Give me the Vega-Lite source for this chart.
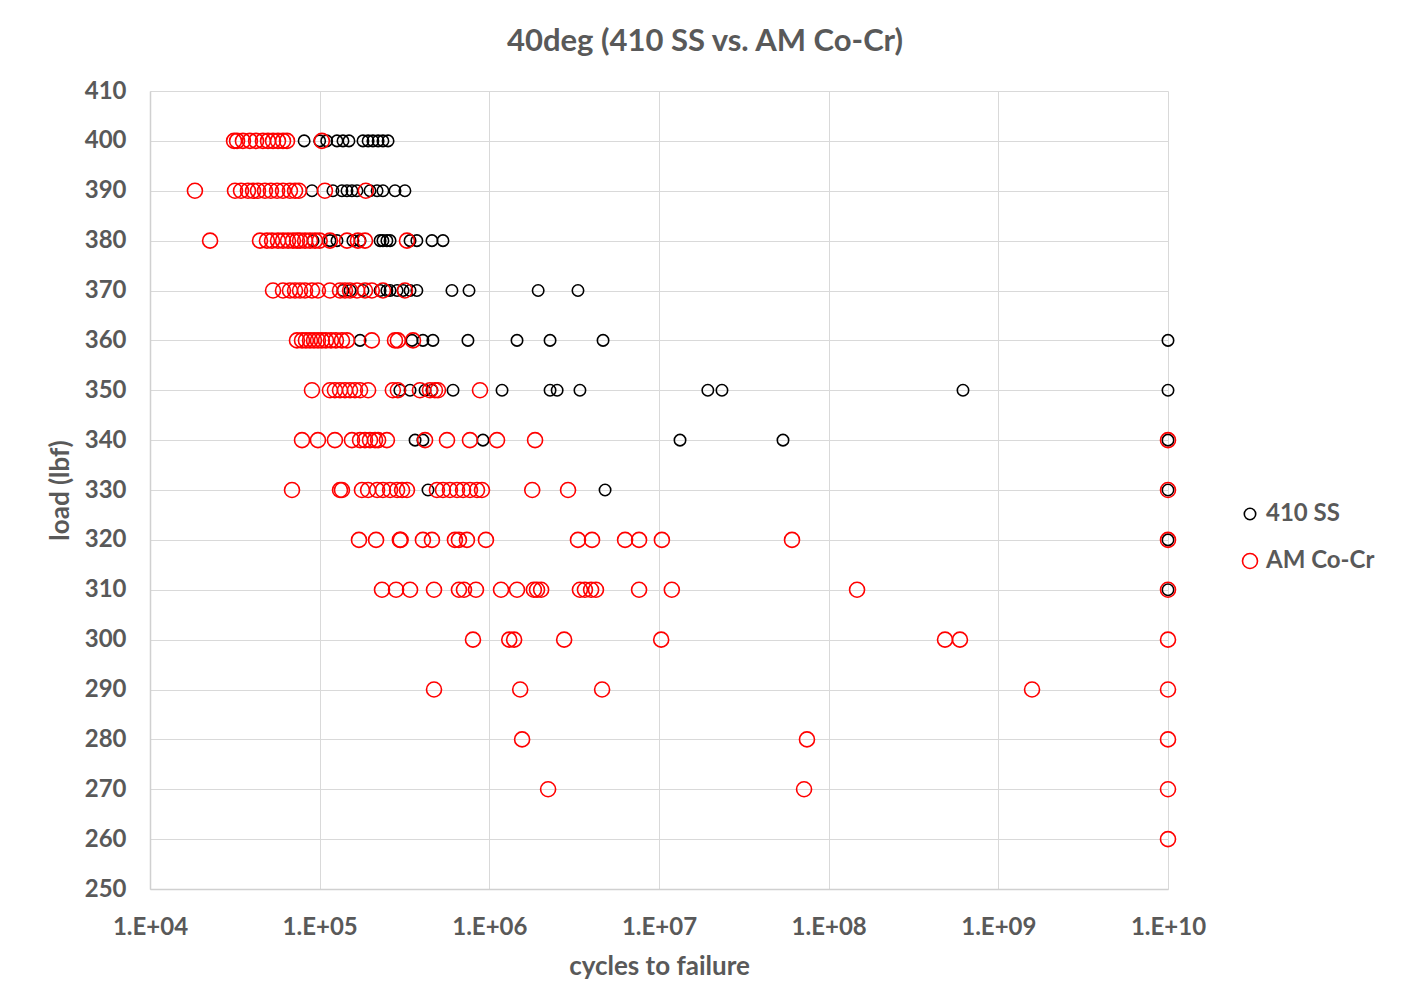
{
  "$schema": "https://vega.github.io/schema/vega-lite/v6.json",
  "width": 1018,
  "height": 798,
  "autosize": {"type": "none"},
  "padding": {"left": 150, "top": 91, "right": 236, "bottom": 114},
  "background": "#ffffff",
  "title": {
    "text": "40deg (410 SS vs. AM Co-Cr)",
    "font": "Lato",
    "fontSize": 31,
    "fontWeight": "bold",
    "color": "#595959",
    "anchor": "middle",
    "frame": "group",
    "baseline": "bottom",
    "offset": 0,
    "dx": 46,
    "dy": 10
  },
  "config": {
    "view": {"stroke": null},
    "font": "Lato",
    "axis": {
      "gridColor": "#d9d9d9",
      "gridWidth": 1,
      "domainColor": "#d0d0d0",
      "domainWidth": 1.5,
      "ticks": false,
      "labelFont": "Lato",
      "labelFontWeight": "bold",
      "labelColor": "#595959",
      "labelFontSize": 24,
      "titleFont": "Lato",
      "titleFontWeight": "bold",
      "titleColor": "#595959",
      "titleFontSize": 26
    },
    "legend": {
      "labelFont": "Lato",
      "labelFontWeight": "bold",
      "labelColor": "#595959",
      "labelFontSize": 24
    }
  },
  "data": {
    "values": [
      {"series":"410 SS","load":400,"cycles":81000},
      {"series":"410 SS","load":400,"cycles":100000},
      {"series":"410 SS","load":400,"cycles":110000},
      {"series":"410 SS","load":400,"cycles":126500},
      {"series":"410 SS","load":400,"cycles":137200},
      {"series":"410 SS","load":400,"cycles":148800},
      {"series":"410 SS","load":400,"cycles":180000},
      {"series":"410 SS","load":400,"cycles":193000},
      {"series":"410 SS","load":400,"cycles":206000},
      {"series":"410 SS","load":400,"cycles":221000},
      {"series":"410 SS","load":400,"cycles":236000},
      {"series":"410 SS","load":400,"cycles":253000},
      {"series":"410 SS","load":390,"cycles":90100},
      {"series":"410 SS","load":390,"cycles":119700},
      {"series":"410 SS","load":390,"cycles":135300},
      {"series":"410 SS","load":390,"cycles":144900},
      {"series":"410 SS","load":390,"cycles":155000},
      {"series":"410 SS","load":390,"cycles":166000},
      {"series":"410 SS","load":390,"cycles":198000},
      {"series":"410 SS","load":390,"cycles":218000},
      {"series":"410 SS","load":390,"cycles":236000},
      {"series":"410 SS","load":390,"cycles":278000},
      {"series":"410 SS","load":390,"cycles":318000},
      {"series":"410 SS","load":380,"cycles":91400},
      {"series":"410 SS","load":380,"cycles":115000},
      {"series":"410 SS","load":380,"cycles":126500},
      {"series":"410 SS","load":380,"cycles":157000},
      {"series":"410 SS","load":380,"cycles":173000},
      {"series":"410 SS","load":380,"cycles":227000},
      {"series":"410 SS","load":380,"cycles":236000},
      {"series":"410 SS","load":380,"cycles":249000},
      {"series":"410 SS","load":380,"cycles":260000},
      {"series":"410 SS","load":380,"cycles":341000},
      {"series":"410 SS","load":380,"cycles":374000},
      {"series":"410 SS","load":380,"cycles":459000},
      {"series":"410 SS","load":380,"cycles":533000},
      {"series":"410 SS","load":370,"cycles":137200},
      {"series":"410 SS","load":370,"cycles":151000},
      {"series":"410 SS","load":370,"cycles":180000},
      {"series":"410 SS","load":370,"cycles":227000},
      {"series":"410 SS","load":370,"cycles":249000},
      {"series":"410 SS","load":370,"cycles":260000},
      {"series":"410 SS","load":370,"cycles":286000},
      {"series":"410 SS","load":370,"cycles":310000},
      {"series":"410 SS","load":370,"cycles":341000},
      {"series":"410 SS","load":370,"cycles":374000},
      {"series":"410 SS","load":370,"cycles":602000},
      {"series":"410 SS","load":370,"cycles":759000},
      {"series":"410 SS","load":370,"cycles":1940000},
      {"series":"410 SS","load":370,"cycles":3330000},
      {"series":"410 SS","load":360,"cycles":173000},
      {"series":"410 SS","load":360,"cycles":350000},
      {"series":"410 SS","load":360,"cycles":406000},
      {"series":"410 SS","load":360,"cycles":465000},
      {"series":"410 SS","load":360,"cycles":748000},
      {"series":"410 SS","load":360,"cycles":1456000},
      {"series":"410 SS","load":360,"cycles":2280000},
      {"series":"410 SS","load":360,"cycles":4680000},
      {"series":"410 SS","load":360,"cycles":10000000000},
      {"series":"410 SS","load":350,"cycles":297000},
      {"series":"410 SS","load":350,"cycles":341000},
      {"series":"410 SS","load":350,"cycles":418000},
      {"series":"410 SS","load":350,"cycles":459000},
      {"series":"410 SS","load":350,"cycles":611000},
      {"series":"410 SS","load":350,"cycles":1188000},
      {"series":"410 SS","load":350,"cycles":2280000},
      {"series":"410 SS","load":350,"cycles":2510000},
      {"series":"410 SS","load":350,"cycles":3420000},
      {"series":"410 SS","load":350,"cycles":19400000},
      {"series":"410 SS","load":350,"cycles":23500000},
      {"series":"410 SS","load":350,"cycles":619000000},
      {"series":"410 SS","load":350,"cycles":10000000000},
      {"series":"410 SS","load":340,"cycles":365000},
      {"series":"410 SS","load":340,"cycles":406000},
      {"series":"410 SS","load":340,"cycles":917000},
      {"series":"410 SS","load":340,"cycles":13300000},
      {"series":"410 SS","load":340,"cycles":53800000},
      {"series":"410 SS","load":340,"cycles":10000000000},
      {"series":"410 SS","load":330,"cycles":435000},
      {"series":"410 SS","load":330,"cycles":4810000},
      {"series":"410 SS","load":330,"cycles":10000000000},
      {"series":"410 SS","load":320,"cycles":10000000000},
      {"series":"410 SS","load":310,"cycles":10000000000},
      {"series":"AM Co-Cr","load":400,"cycles":31300},
      {"series":"AM Co-Cr","load":400,"cycles":32600},
      {"series":"AM Co-Cr","load":400,"cycles":35300},
      {"series":"AM Co-Cr","load":400,"cycles":38800},
      {"series":"AM Co-Cr","load":400,"cycles":42200},
      {"series":"AM Co-Cr","load":400,"cycles":46300},
      {"series":"AM Co-Cr","load":400,"cycles":49600},
      {"series":"AM Co-Cr","load":400,"cycles":53100},
      {"series":"AM Co-Cr","load":400,"cycles":56800},
      {"series":"AM Co-Cr","load":400,"cycles":60800},
      {"series":"AM Co-Cr","load":400,"cycles":64200},
      {"series":"AM Co-Cr","load":400,"cycles":103000},
      {"series":"AM Co-Cr","load":390,"cycles":18400},
      {"series":"AM Co-Cr","load":390,"cycles":31700},
      {"series":"AM Co-Cr","load":390,"cycles":34400},
      {"series":"AM Co-Cr","load":390,"cycles":37800},
      {"series":"AM Co-Cr","load":390,"cycles":40500},
      {"series":"AM Co-Cr","load":390,"cycles":43300},
      {"series":"AM Co-Cr","load":390,"cycles":47600},
      {"series":"AM Co-Cr","load":390,"cycles":51600},
      {"series":"AM Co-Cr","load":390,"cycles":56100},
      {"series":"AM Co-Cr","load":390,"cycles":60800},
      {"series":"AM Co-Cr","load":390,"cycles":66800},
      {"series":"AM Co-Cr","load":390,"cycles":71600},
      {"series":"AM Co-Cr","load":390,"cycles":75500},
      {"series":"AM Co-Cr","load":390,"cycles":107400},
      {"series":"AM Co-Cr","load":390,"cycles":187000},
      {"series":"AM Co-Cr","load":380,"cycles":22600},
      {"series":"AM Co-Cr","load":380,"cycles":44500},
      {"series":"AM Co-Cr","load":380,"cycles":48900},
      {"series":"AM Co-Cr","load":380,"cycles":52400},
      {"series":"AM Co-Cr","load":380,"cycles":56800},
      {"series":"AM Co-Cr","load":380,"cycles":60800},
      {"series":"AM Co-Cr","load":380,"cycles":65100},
      {"series":"AM Co-Cr","load":380,"cycles":69600},
      {"series":"AM Co-Cr","load":380,"cycles":73500},
      {"series":"AM Co-Cr","load":380,"cycles":76600},
      {"series":"AM Co-Cr","load":380,"cycles":82000},
      {"series":"AM Co-Cr","load":380,"cycles":87700},
      {"series":"AM Co-Cr","load":380,"cycles":93900},
      {"series":"AM Co-Cr","load":380,"cycles":100000},
      {"series":"AM Co-Cr","load":380,"cycles":115000},
      {"series":"AM Co-Cr","load":380,"cycles":144900},
      {"series":"AM Co-Cr","load":380,"cycles":168000},
      {"series":"AM Co-Cr","load":380,"cycles":185000},
      {"series":"AM Co-Cr","load":380,"cycles":327000},
      {"series":"AM Co-Cr","load":370,"cycles":53100},
      {"series":"AM Co-Cr","load":370,"cycles":60800},
      {"series":"AM Co-Cr","load":370,"cycles":66800},
      {"series":"AM Co-Cr","load":370,"cycles":71600},
      {"series":"AM Co-Cr","load":370,"cycles":76600},
      {"series":"AM Co-Cr","load":370,"cycles":82000},
      {"series":"AM Co-Cr","load":370,"cycles":90100},
      {"series":"AM Co-Cr","load":370,"cycles":97700},
      {"series":"AM Co-Cr","load":370,"cycles":115000},
      {"series":"AM Co-Cr","load":370,"cycles":131800},
      {"series":"AM Co-Cr","load":370,"cycles":141000},
      {"series":"AM Co-Cr","load":370,"cycles":151000},
      {"series":"AM Co-Cr","load":370,"cycles":166000},
      {"series":"AM Co-Cr","load":370,"cycles":185000},
      {"series":"AM Co-Cr","load":370,"cycles":203000},
      {"series":"AM Co-Cr","load":370,"cycles":236000},
      {"series":"AM Co-Cr","load":370,"cycles":318000},
      {"series":"AM Co-Cr","load":360,"cycles":73500},
      {"series":"AM Co-Cr","load":360,"cycles":78700},
      {"series":"AM Co-Cr","load":360,"cycles":83000},
      {"series":"AM Co-Cr","load":360,"cycles":87700},
      {"series":"AM Co-Cr","load":360,"cycles":92600},
      {"series":"AM Co-Cr","load":360,"cycles":97700},
      {"series":"AM Co-Cr","load":360,"cycles":103000},
      {"series":"AM Co-Cr","load":360,"cycles":108900},
      {"series":"AM Co-Cr","load":360,"cycles":116600},
      {"series":"AM Co-Cr","load":360,"cycles":124700},
      {"series":"AM Co-Cr","load":360,"cycles":135300},
      {"series":"AM Co-Cr","load":360,"cycles":144900},
      {"series":"AM Co-Cr","load":360,"cycles":203000},
      {"series":"AM Co-Cr","load":360,"cycles":278000},
      {"series":"AM Co-Cr","load":360,"cycles":289000},
      {"series":"AM Co-Cr","load":360,"cycles":355000},
      {"series":"AM Co-Cr","load":350,"cycles":90100},
      {"series":"AM Co-Cr","load":350,"cycles":115000},
      {"series":"AM Co-Cr","load":350,"cycles":123000},
      {"series":"AM Co-Cr","load":350,"cycles":131800},
      {"series":"AM Co-Cr","load":350,"cycles":141000},
      {"series":"AM Co-Cr","load":350,"cycles":151000},
      {"series":"AM Co-Cr","load":350,"cycles":161500},
      {"series":"AM Co-Cr","load":350,"cycles":173000},
      {"series":"AM Co-Cr","load":350,"cycles":193000},
      {"series":"AM Co-Cr","load":350,"cycles":270000},
      {"series":"AM Co-Cr","load":350,"cycles":289000},
      {"series":"AM Co-Cr","load":350,"cycles":390000},
      {"series":"AM Co-Cr","load":350,"cycles":447000},
      {"series":"AM Co-Cr","load":350,"cycles":478000},
      {"series":"AM Co-Cr","load":350,"cycles":498000},
      {"series":"AM Co-Cr","load":350,"cycles":881000},
      {"series":"AM Co-Cr","load":340,"cycles":78700},
      {"series":"AM Co-Cr","load":340,"cycles":97700},
      {"series":"AM Co-Cr","load":340,"cycles":123000},
      {"series":"AM Co-Cr","load":340,"cycles":155000},
      {"series":"AM Co-Cr","load":340,"cycles":173000},
      {"series":"AM Co-Cr","load":340,"cycles":185000},
      {"series":"AM Co-Cr","load":340,"cycles":198000},
      {"series":"AM Co-Cr","load":340,"cycles":212000},
      {"series":"AM Co-Cr","load":340,"cycles":221000},
      {"series":"AM Co-Cr","load":340,"cycles":249000},
      {"series":"AM Co-Cr","load":340,"cycles":418000},
      {"series":"AM Co-Cr","load":340,"cycles":563000},
      {"series":"AM Co-Cr","load":340,"cycles":769000},
      {"series":"AM Co-Cr","load":340,"cycles":1110000},
      {"series":"AM Co-Cr","load":340,"cycles":1860000},
      {"series":"AM Co-Cr","load":340,"cycles":10000000000},
      {"series":"AM Co-Cr","load":330,"cycles":68700},
      {"series":"AM Co-Cr","load":330,"cycles":131800},
      {"series":"AM Co-Cr","load":330,"cycles":135300},
      {"series":"AM Co-Cr","load":330,"cycles":177500},
      {"series":"AM Co-Cr","load":330,"cycles":193000},
      {"series":"AM Co-Cr","load":330,"cycles":218000},
      {"series":"AM Co-Cr","load":330,"cycles":236000},
      {"series":"AM Co-Cr","load":330,"cycles":260000},
      {"series":"AM Co-Cr","load":330,"cycles":286000},
      {"series":"AM Co-Cr","load":330,"cycles":306000},
      {"series":"AM Co-Cr","load":330,"cycles":327000},
      {"series":"AM Co-Cr","load":330,"cycles":491000},
      {"series":"AM Co-Cr","load":330,"cycles":533000},
      {"series":"AM Co-Cr","load":330,"cycles":586000},
      {"series":"AM Co-Cr","load":330,"cycles":645000},
      {"series":"AM Co-Cr","load":330,"cycles":700000},
      {"series":"AM Co-Cr","load":330,"cycles":769000},
      {"series":"AM Co-Cr","load":330,"cycles":846000},
      {"series":"AM Co-Cr","load":330,"cycles":905000},
      {"series":"AM Co-Cr","load":330,"cycles":1790000},
      {"series":"AM Co-Cr","load":330,"cycles":2910000},
      {"series":"AM Co-Cr","load":330,"cycles":10000000000},
      {"series":"AM Co-Cr","load":320,"cycles":170500},
      {"series":"AM Co-Cr","load":320,"cycles":215000},
      {"series":"AM Co-Cr","load":320,"cycles":297000},
      {"series":"AM Co-Cr","load":320,"cycles":300000},
      {"series":"AM Co-Cr","load":320,"cycles":406000},
      {"series":"AM Co-Cr","load":320,"cycles":459000},
      {"series":"AM Co-Cr","load":320,"cycles":627000},
      {"series":"AM Co-Cr","load":320,"cycles":662000},
      {"series":"AM Co-Cr","load":320,"cycles":738000},
      {"series":"AM Co-Cr","load":320,"cycles":955000},
      {"series":"AM Co-Cr","load":320,"cycles":3330000},
      {"series":"AM Co-Cr","load":320,"cycles":4030000},
      {"series":"AM Co-Cr","load":320,"cycles":6310000},
      {"series":"AM Co-Cr","load":320,"cycles":7630000},
      {"series":"AM Co-Cr","load":320,"cycles":10400000},
      {"series":"AM Co-Cr","load":320,"cycles":60800000},
      {"series":"AM Co-Cr","load":320,"cycles":10000000000},
      {"series":"AM Co-Cr","load":310,"cycles":233000},
      {"series":"AM Co-Cr","load":310,"cycles":282000},
      {"series":"AM Co-Cr","load":310,"cycles":341000},
      {"series":"AM Co-Cr","load":310,"cycles":472000},
      {"series":"AM Co-Cr","load":310,"cycles":662000},
      {"series":"AM Co-Cr","load":310,"cycles":709000},
      {"series":"AM Co-Cr","load":310,"cycles":834000},
      {"series":"AM Co-Cr","load":310,"cycles":1172000},
      {"series":"AM Co-Cr","load":310,"cycles":1456000},
      {"series":"AM Co-Cr","load":310,"cycles":1830000},
      {"series":"AM Co-Cr","load":310,"cycles":1910000},
      {"series":"AM Co-Cr","load":310,"cycles":2020000},
      {"series":"AM Co-Cr","load":310,"cycles":3420000},
      {"series":"AM Co-Cr","load":310,"cycles":3660000},
      {"series":"AM Co-Cr","load":310,"cycles":3980000},
      {"series":"AM Co-Cr","load":310,"cycles":4250000},
      {"series":"AM Co-Cr","load":310,"cycles":7630000},
      {"series":"AM Co-Cr","load":310,"cycles":11900000},
      {"series":"AM Co-Cr","load":310,"cycles":147000000},
      {"series":"AM Co-Cr","load":310,"cycles":10000000000},
      {"series":"AM Co-Cr","load":300,"cycles":801000},
      {"series":"AM Co-Cr","load":300,"cycles":1310000},
      {"series":"AM Co-Cr","load":300,"cycles":1400000},
      {"series":"AM Co-Cr","load":300,"cycles":2760000},
      {"series":"AM Co-Cr","load":300,"cycles":10300000},
      {"series":"AM Co-Cr","load":300,"cycles":485000000},
      {"series":"AM Co-Cr","load":300,"cycles":594000000},
      {"series":"AM Co-Cr","load":300,"cycles":10000000000},
      {"series":"AM Co-Cr","load":290,"cycles":472000},
      {"series":"AM Co-Cr","load":290,"cycles":1520000},
      {"series":"AM Co-Cr","load":290,"cycles":4620000},
      {"series":"AM Co-Cr","load":290,"cycles":1580000000},
      {"series":"AM Co-Cr","load":290,"cycles":10000000000},
      {"series":"AM Co-Cr","load":280,"cycles":1560000},
      {"series":"AM Co-Cr","load":280,"cycles":74500000},
      {"series":"AM Co-Cr","load":280,"cycles":10000000000},
      {"series":"AM Co-Cr","load":270,"cycles":2220000},
      {"series":"AM Co-Cr","load":270,"cycles":71600000},
      {"series":"AM Co-Cr","load":270,"cycles":10000000000},
      {"series":"AM Co-Cr","load":260,"cycles":10000000000}
    ]
  },
  "mark": {"type": "point", "shape": "circle", "filled": false, "strokeWidth": 1.6, "opacity": 1},
  "encoding": {
    "x": {
      "field": "cycles",
      "type": "quantitative",
      "scale": {"type": "log", "domain": [10000, 10000000000], "nice": false},
      "axis": {
        "title": "cycles to failure",
        "values": [10000, 100000, 1000000, 10000000, 100000000, 1000000000, 10000000000],
        "labelExpr": "'1.E+' + format(round(log(datum.value)/LN10), '02d')",
        "labelPadding": 26,
        "labelFlush": false,
        "titleY": 77,
        "titleBaseline": "middle",
        "grid": true
      }
    },
    "y": {
      "field": "load",
      "type": "quantitative",
      "scale": {"domain": [250, 410], "nice": false, "zero": false},
      "axis": {
        "title": "load (lbf)",
        "values": [250, 260, 270, 280, 290, 300, 310, 320, 330, 340, 350, 360, 370, 380, 390, 400, 410],
        "labelPadding": 24,
        "labelFlush": false,
        "titleX": -90,
        "titleY": 399,
        "titleAngle": -90,
        "titleAlign": "center",
        "titleBaseline": "middle",
        "grid": true
      }
    },
    "color": {
      "field": "series",
      "type": "nominal",
      "scale": {"domain": ["410 SS", "AM Co-Cr"], "range": ["#000000", "#ff0000"]},
      "legend": {
        "title": null,
        "orient": "none",
        "legendX": 1088,
        "legendY": 411,
        "padding": 0,
        "rowPadding": 23,
        "labelOffset": 4,
        "symbolStrokeWidth": 1.6
      }
    },
    "size": {
      "field": "series",
      "type": "nominal",
      "scale": {"domain": ["410 SS", "AM Co-Cr"], "range": [130, 225]},
      "legend": {
        "title": null,
        "orient": "none",
        "legendX": 1088,
        "legendY": 411,
        "padding": 0,
        "rowPadding": 23,
        "labelOffset": 4,
        "symbolStrokeWidth": 1.6
      }
    }
  }
}
